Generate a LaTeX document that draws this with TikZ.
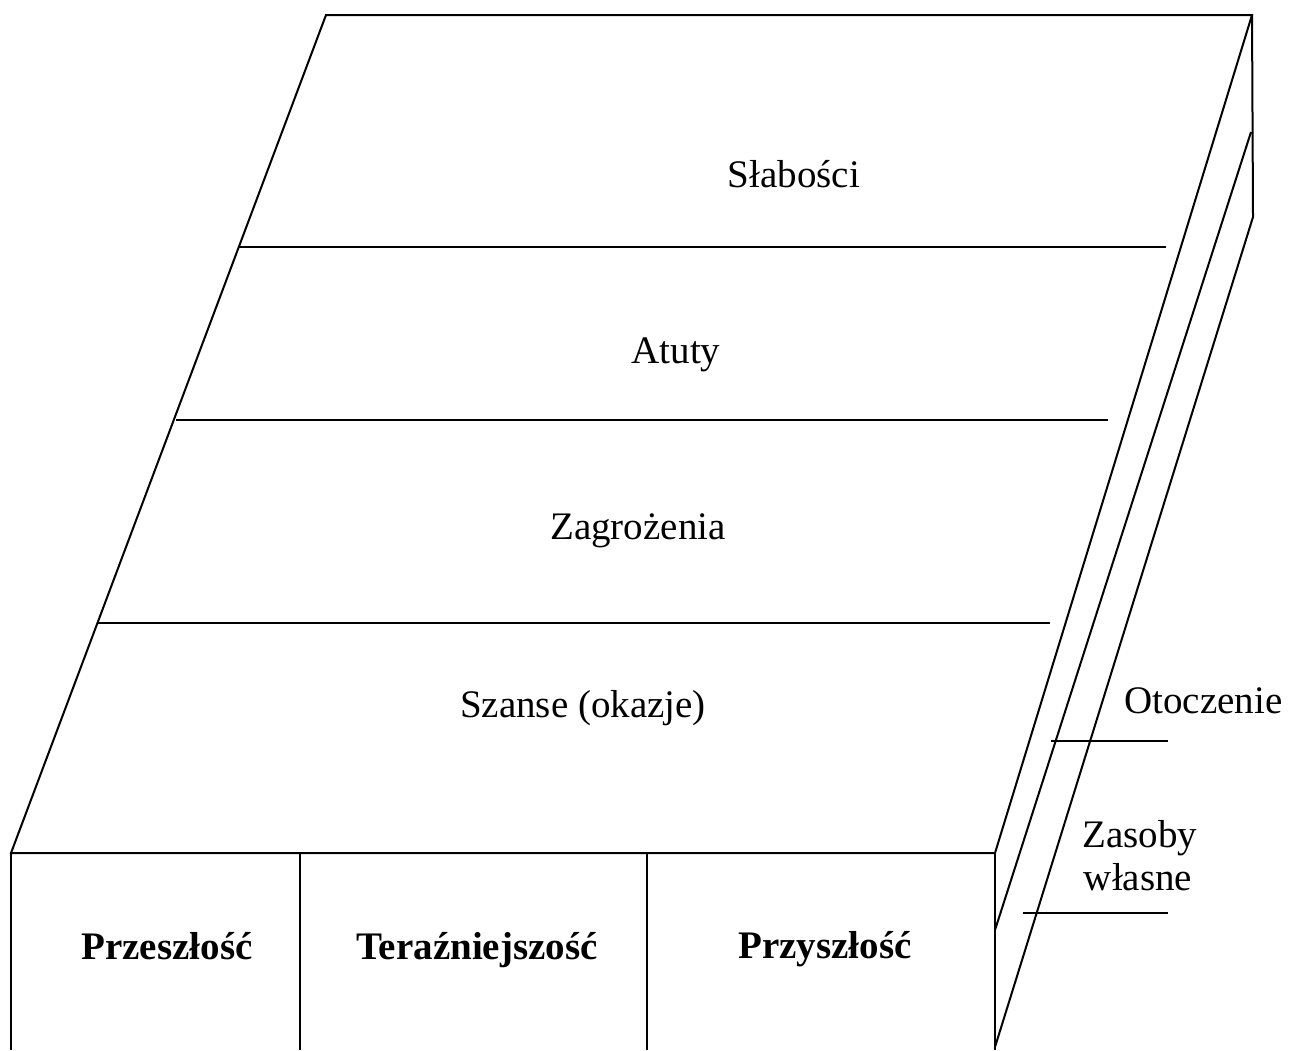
\documentclass[tikz,border=0pt]{standalone}
\usepackage{fontspec}
\setmainfont{Liberation Serif}
\begin{document}
\begin{tikzpicture}[x=1pt,y=-1pt,
  edge/.style={line width=2pt,line join=miter},
  lab/.style={font=\fontsize{39}{44}\selectfont,anchor=base,inner sep=0pt},
  blab/.style={lab,font=\fontsize{39}{44}\selectfont\bfseries}]
\useasboundingbox (0,0) rectangle (1297,1050);
% corners
\coordinate (TL) at (326,15);
\coordinate (TR) at (1252,15);
\coordinate (FL) at (11,853);
\coordinate (FR) at (995,853);
\coordinate (R1) at (1253,217);
\coordinate (M1) at (1251,132);
\coordinate (MB) at (995,930);
\coordinate (BR) at (995,1047);
\coordinate (FLB) at (11,1050);
\coordinate (FRB) at (995,1050);
\coordinate (D1T) at (300,853);
\coordinate (D1B) at (300,1050);
\coordinate (D2T) at (647,853);
\coordinate (D2B) at (647,1050);
% top face
\draw[edge] (FL) -- (TL) -- (TR) -- (FR) -- cycle;
% front face
\draw[edge] (FL) -- (FLB);
\draw[edge] (FR) -- (FRB);
\draw[edge] (D1T) -- (D1B);
\draw[edge] (D2T) -- (D2B);
% side
\draw[edge] (TR) -- (R1) -- (BR);
\draw[edge] (M1) -- (MB);
% dividers on top face
\coordinate (L1a) at (239,247); \coordinate (L1b) at (1166,247);
\coordinate (L2a) at (176,420); \coordinate (L2b) at (1108,420);
\coordinate (L3a) at (97,623);  \coordinate (L3b) at (1050,623);
\draw[edge] (L1a) -- (L1b);
\draw[edge] (L2a) -- (L2b);
\draw[edge] (L3a) -- (L3b);
% side label lines
\coordinate (O1) at (1051,741); \coordinate (O2) at (1168,741);
\coordinate (Z1) at (1023,913); \coordinate (Z2) at (1168,913);
\draw[edge] (O1) -- (O2);
\draw[edge] (Z1) -- (Z2);
% labels
\node[lab] (slab) at (794,187) {Słabości};
\node[lab] (atu) at (676,363) {Atuty};
\node[lab] (zag) at (638,539) {Zagrożenia};
\node[lab] (sza) at (583,717) {Szanse (okazje)};
\node[blab] (prze) at (167,959) {Przeszłość};
\node[blab] (ter) at (477,959) {Teraźniejszość};
\node[blab] (przy) at (825,958) {Przyszłość};
\node[lab,anchor=base west] (oto) at (1124,713) {Otoczenie};
\node[lab] (zas) at (1140,847) {Zasoby};
\node[lab] (wla) at (1138,890) {własne};
\end{tikzpicture}
\end{document}
